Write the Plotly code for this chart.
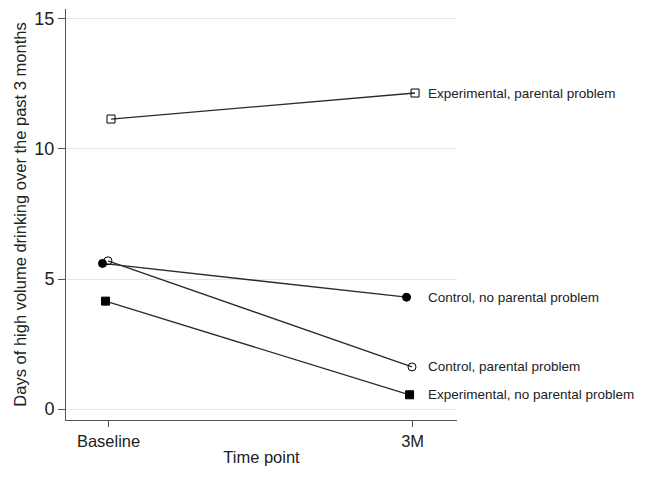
import plotly.graph_objects as go

time_labels = ["Baseline", "3M"]
series_names = [
    "Experimental, parental problem",
    "Control, no parental problem",
    "Control, parental problem",
    "Experimental, no parental problem",
]
exp_parental = [11.15, 12.15]
ctrl_no_parental = [5.6, 4.3]
ctrl_parental = [5.7, 1.62]
exp_no_parental = [4.15, 0.55]

values = [exp_parental, ctrl_no_parental, ctrl_parental, exp_no_parental]
symbols = ["square-open", "circle", "circle-open", "square"]
jitter = [0.008, -0.02, -0.002, -0.01]

fig = go.Figure()
for name, vals, sym, j in zip(series_names, values, symbols, jitter):
    xs = [i + j for i in range(len(time_labels))]
    fig.add_trace(go.Scatter(
        x=xs, y=vals, mode="lines+markers", name=name,
        line=dict(color="#2a2a2a", width=1.3),
        marker=dict(symbol=sym, size=8, color="black",
                    line=dict(color="black", width=1)),
        showlegend=False,
    ))
    fig.add_annotation(
        x=1 + 0.008, y=vals[-1], text=name, xref="x", yref="y",
        xanchor="left", yanchor="middle", showarrow=False,
        xshift=11, font=dict(family="Liberation Sans, Arial", size=13.5, color="#222222"),
    )

# the page body has an 8px margin, so the figure is sized to the visible area
fig.update_layout(
    width=637, height=473,
    margin=dict(l=58, r=188, t=1, b=61),
    paper_bgcolor="white", plot_bgcolor="white",
    font=dict(family="Liberation Sans, Arial", color="#222222"),
)
fig.update_xaxes(
    range=[-0.14, 1.146], tickvals=[0, 1], ticktext=time_labels,
    showgrid=False, zeroline=False, showline=True, linecolor="#555555", linewidth=1,
    ticks="outside", ticklen=6, tickcolor="#555555",
    tickfont=dict(size=16.5), automargin=False,
    title=dict(text="Time point", font=dict(size=16.5), standoff=2),
)
fig.update_yaxes(
    range=[-0.42, 15.38], tickvals=[0, 5, 10, 15],
    showgrid=True, gridcolor="#e6e6e6", gridwidth=1, zeroline=False,
    showline=True, linecolor="#555555", linewidth=1,
    ticks="outside", ticklen=7, tickcolor="#555555",
    tickfont=dict(size=18), automargin=False,
    title=dict(text="Days of high volume drinking over the past 3 months", font=dict(size=16.5), standoff=3),
)

fig.write_html("out.html")
